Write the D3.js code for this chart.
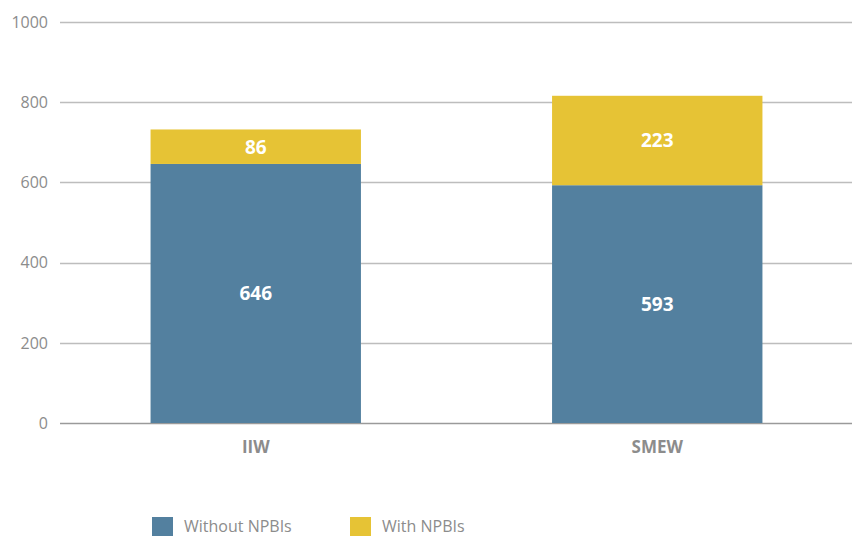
<!DOCTYPE html>
<html>
<head>
<meta charset="utf-8">
<script src="https://cdn.jsdelivr.net/npm/d3@7"></script>
<style>
  body { margin: 0; background: #fff; }
  text { font-family: "Open Sans", "Noto Sans", sans-serif; }
</style>
</head>
<body>
<svg id="plot"></svg>
<script>
// Define data
const categories = ["IIW", "SMEW"];
const withoutNPBIs = [646, 593];
const withNPBIs = [86, 223];
const seriesNames = ["Without NPBIs", "With NPBIs"];
const yTicks = [0, 200, 400, 600, 800, 1000];

let width = 852;
let height = 536;
let colors = ["#53809f", "#e6c335"];

let svg = d3.select('#plot')
    .attr('width', width)
    .attr('height', height);

let xScale = d3.scaleBand()
    .domain(categories)
    .range([55, 858])
    .paddingInner(0.476)
    .paddingOuter(0.238);

let yScale = d3.scaleLinear()
    .domain([0, 1000])
    .range([423, 22]);

// Gridlines and tick labels
svg.append('g')
    .selectAll('line')
    .data(yTicks)
    .enter()
    .append('line')
    .attr('x1', 60)
    .attr('x2', width)
    .attr('y1', d => Math.round(yScale(d)) + 0.5)
    .attr('y2', d => Math.round(yScale(d)) + 0.5)
    .attr('stroke', d => d === 0 ? '#9a9a9a' : '#bdbdbd')
    .attr('stroke-width', 1.3);

svg.append('g')
    .selectAll('text')
    .data(yTicks)
    .enter()
    .append('text')
    .attr('x', 48)
    .attr('y', d => yScale(d))
    .attr('dy', '0.36em')
    .attr('text-anchor', 'end')
    .attr('font-size', 16)
    .attr('fill', '#8c8c8c')
    .text(d => d);

// Stack the two series
let rows = categories.map((c, i) => ({ cat: c, a: withoutNPBIs[i], b: withNPBIs[i] }));
let stacked = d3.stack().keys(['a', 'b'])(rows);

let layers = svg.selectAll('.layer')
    .data(stacked)
    .enter()
    .append('g')
    .attr('class', 'layer')
    .attr('fill', (d, i) => colors[i]);

layers.selectAll('rect')
    .data(d => d)
    .enter()
    .append('rect')
    .attr('x', d => xScale(d.data.cat))
    .attr('width', xScale.bandwidth())
    .attr('y', d => yScale(d[1]))
    .attr('height', d => yScale(d[0]) - yScale(d[1]));

layers.selectAll('text')
    .data(d => d)
    .enter()
    .append('text')
    .attr('x', d => xScale(d.data.cat) + xScale.bandwidth() / 2)
    .attr('y', d => (yScale(d[0]) + yScale(d[1])) / 2)
    .attr('dy', '0.36em')
    .attr('text-anchor', 'middle')
    .attr('font-size', 19)
    .attr('font-weight', 'bold')
    .attr('fill', '#fff')
    .text(d => d[1] - d[0]);

// Category labels
svg.append('g')
    .selectAll('text')
    .data(categories)
    .enter()
    .append('text')
    .attr('x', d => xScale(d) + xScale.bandwidth() / 2)
    .attr('y', 453)
    .attr('text-anchor', 'middle')
    .attr('font-size', 17)
    .attr('font-weight', 'bold')
    .attr('fill', '#8c8c8c')
    .text(d => d);

// Legend
let legend = svg.selectAll('.legend')
    .data(seriesNames)
    .enter()
    .append('g')
    .attr('class', 'legend')
    .attr('transform', (d, i) => `translate(${152 + i * 198}, 517)`);

legend.append('rect')
    .attr('width', 21)
    .attr('height', 20)
    .style('fill', (d, i) => colors[i]);

legend.append('text')
    .attr('x', 32)
    .attr('y', 15)
    .attr('font-size', 16)
    .attr('fill', '#8c8c8c')
    .text(d => d);
</script>
</body>
</html>
